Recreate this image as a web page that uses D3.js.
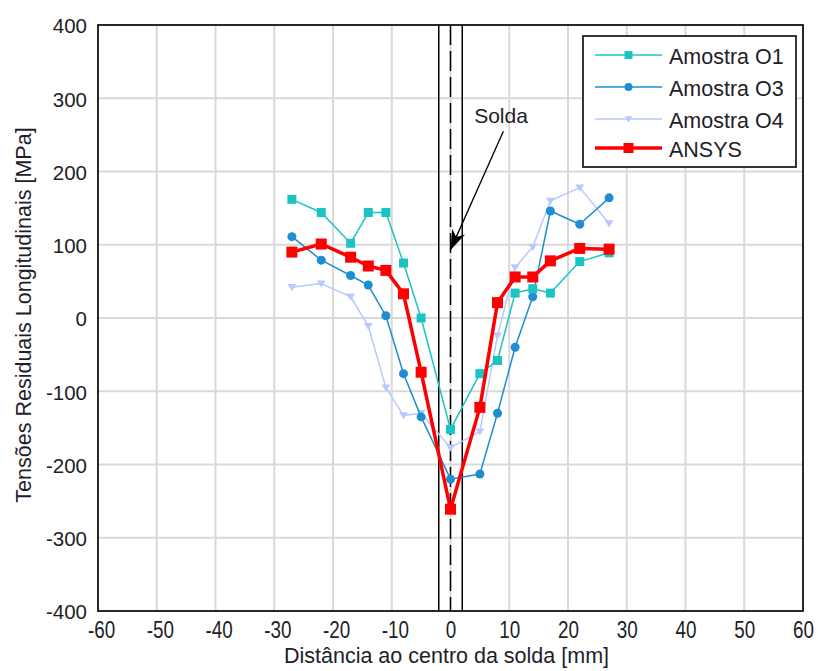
<!DOCTYPE html>
<html><head><meta charset="utf-8">
<script src="https://cdn.jsdelivr.net/npm/d3@7"></script>
<style>
body{margin:0;background:#fff;}
svg{display:block;}
</style></head>
<body>
<svg id="chart" width="818" height="671"></svg>
<script>
const xPositions = [-27, -22, -17, -14, -11, -8, -5, 0, 5, 8, 11, 14, 17, 22, 27];
const amostraO1 = [162, 144, 102, 144, 144, 75, 0, -152, -76, -58, 34, 40, 34, 77, 89];
const amostraO3 = [111, 79, 58, 45, 3, -76, -135, -220, -213, -130, -40, 29, 146, 128, 164];
const amostraO4 = [42, 47, 29, -11, -95, -133, -130, -177, -155, -24, 69, 97, 160, 178, 129];
const ansys = [90, 101, 83, 71, 65, 33, -74, -261, -122, 21, 56, 56, 78, 95, 94];
const seriesNames = ["Amostra O1", "Amostra O3", "Amostra O4", "ANSYS"];
const xTicks = [-60, -50, -40, -30, -20, -10, 0, 10, 20, 30, 40, 50, 60];
const yTicks = [-400, -300, -200, -100, 0, 100, 200, 300, 400];
const weldLines = [-2, 2];
const weldCenter = [0];

const svg = d3.select("#chart");
const L = 98, R = 803, T = 25, B = 611;
const x = d3.scaleLinear().domain([-60, 60]).range([L, R]);
const y = d3.scaleLinear().domain([-400, 400]).range([B, T]);
const font = "'Liberation Sans', Arial, sans-serif";
const txt = "#1e1e28";

// grid
svg.append("g").selectAll("line").data(xTicks.slice(1, -1)).join("line")
  .attr("x1", d => x(d)).attr("x2", d => x(d)).attr("y1", T).attr("y2", B)
  .attr("stroke", "#d9d9d9").attr("stroke-width", 2);
svg.append("g").selectAll("line").data(yTicks.slice(1, -1)).join("line")
  .attr("x1", L).attr("x2", R).attr("y1", d => y(d)).attr("y2", d => y(d))
  .attr("stroke", "#d9d9d9").attr("stroke-width", 2);

// axes
const yAxis = d3.axisLeft(y).tickValues(yTicks).tickSize(0).tickFormat(d => String(d));
const gy = svg.append("g").attr("transform", `translate(${L},0)`).call(yAxis);
gy.select(".domain").remove();
gy.selectAll("text").attr("font-family", font).attr("font-size", 20.5).attr("fill", txt)
  .attr("x", -11).attr("dy", "0.38em");

const xFs = 23, xSx = 0.82;
const xAxis = d3.axisBottom(x).tickValues(xTicks).tickSize(0).tickFormat(d => String(d));
const gx = svg.append("g").attr("transform", `translate(0,${B})`).call(xAxis);
gx.select(".domain").remove();
gx.selectAll("text").attr("font-family", font).attr("font-size", xFs).attr("fill", txt)
  .attr("dy", null).attr("y", 27.3)
  .attr("x", d => (d < 0 ? 0.333 * xFs * xSx / 2 : 0) / xSx)
  .attr("transform", `scale(${xSx},1)`);

svg.append("text").attr("x", 446.5).attr("y", 663).attr("text-anchor", "middle")
  .attr("font-family", font).attr("font-size", 21.5).attr("fill", txt)
  .text("Distância ao centro da solda [mm]");
svg.append("text").attr("transform", `translate(31,315) rotate(-90)`)
  .attr("text-anchor", "middle").attr("font-family", font).attr("font-size", 21.5)
  .attr("fill", txt).text("Tensões Residuais Longitudinais [MPa]");

// weld lines
svg.append("g").selectAll("line").data(weldLines).join("line")
  .attr("x1", d => x(d)).attr("x2", d => x(d)).attr("y1", T).attr("y2", B)
  .attr("stroke", "#000").attr("stroke-width", 1.5);
svg.append("g").selectAll("line").data(weldCenter).join("line")
  .attr("x1", d => x(d)).attr("x2", d => x(d)).attr("y1", T).attr("y2", B)
  .attr("stroke", "#000").attr("stroke-width", 1.5).attr("stroke-dasharray", "20,6");

// series
const styles = [
  {data: amostraO1, color: "#1cc3c3", width: 1.5, marker: "square", size: 9},
  {data: amostraO3, color: "#1e8ed0", width: 1.5, marker: "circle", size: 9},
  {data: amostraO4, color: "#b9c9ff", width: 1.5, marker: "triangle", size: 9},
  {data: ansys, color: "#ff0000", width: 3.5, marker: "square", size: 11}
];
const line = d3.line().x(d => x(d[0])).y(d => y(d[1]));
function drawMarker(g, type, cx, cy, size, color) {
  if (type === "square") {
    g.append("rect").attr("x", cx - size / 2).attr("y", cy - size / 2)
      .attr("width", size).attr("height", size).attr("fill", color);
  } else if (type === "circle") {
    g.append("circle").attr("cx", cx).attr("cy", cy).attr("r", size / 2).attr("fill", color);
  } else {
    const h = size / 2;
    g.append("path").attr("d", `M${cx - h},${cy - h * 0.7}L${cx + h},${cy - h * 0.7}L${cx},${cy + h * 0.9}Z`)
      .attr("fill", color);
  }
}
[2, 1, 0, 3].forEach(i => {
  const s = styles[i];
  const pts = xPositions.map((xv, k) => [xv, s.data[k]]);
  const g = svg.append("g");
  g.append("path").attr("d", line(pts)).attr("fill", "none")
    .attr("stroke", s.color).attr("stroke-width", s.width).attr("stroke-linejoin", "round");
  pts.forEach(p => drawMarker(g, s.marker, x(p[0]), y(p[1]), s.size, s.color));
});

// plot border
svg.append("rect").attr("x", L).attr("y", T).attr("width", R - L).attr("height", B - T)
  .attr("fill", "none").attr("stroke", "#111").attr("stroke-width", 1.8);

// Solda annotation
svg.append("text").attr("x", 501).attr("y", 123).attr("text-anchor", "middle")
  .attr("font-family", font).attr("font-size", 21).attr("fill", txt).text("Solda");
const ax0 = x(9), ay0 = y(255), ax1 = x(0), ay1 = y(93);
svg.append("line").attr("x1", ax0).attr("y1", ay0).attr("x2", ax1).attr("y2", ay1)
  .attr("stroke", "#000").attr("stroke-width", 1.3);
const ang = Math.atan2(ay1 - ay0, ax1 - ax0);
const hl = 20, hw = 7;
const bx = ax1 - hl * Math.cos(ang), by = ay1 - hl * Math.sin(ang);
const nx = -Math.sin(ang), ny = Math.cos(ang);
const mx = ax1 - hl * 0.7 * Math.cos(ang), my = ay1 - hl * 0.7 * Math.sin(ang);
svg.append("path")
  .attr("d", `M${ax1},${ay1}L${bx + nx * hw},${by + ny * hw}L${mx},${my}L${bx - nx * hw},${by - ny * hw}Z`)
  .attr("fill", "#000");

// legend
const lg = svg.append("g");
lg.append("rect").attr("x", 583).attr("y", 36).attr("width", 213).attr("height", 131)
  .attr("fill", "#fff").attr("stroke", "#222").attr("stroke-width", 1.8);
const rowY = [55, 87, 119, 148];
seriesNames.forEach((name, i) => {
  const s = styles[i];
  lg.append("line").attr("x1", 595).attr("x2", 662).attr("y1", rowY[i]).attr("y2", rowY[i])
    .attr("stroke", s.color).attr("stroke-width", s.width);
  drawMarker(lg, s.marker, 628.5, rowY[i], s.size - 1, s.color);
  lg.append("text").attr("x", 669).attr("y", rowY[i] + 8.5).attr("font-family", font)
    .attr("font-size", 21.5).attr("fill", txt).text(name);
});
</script>
</body></html>
